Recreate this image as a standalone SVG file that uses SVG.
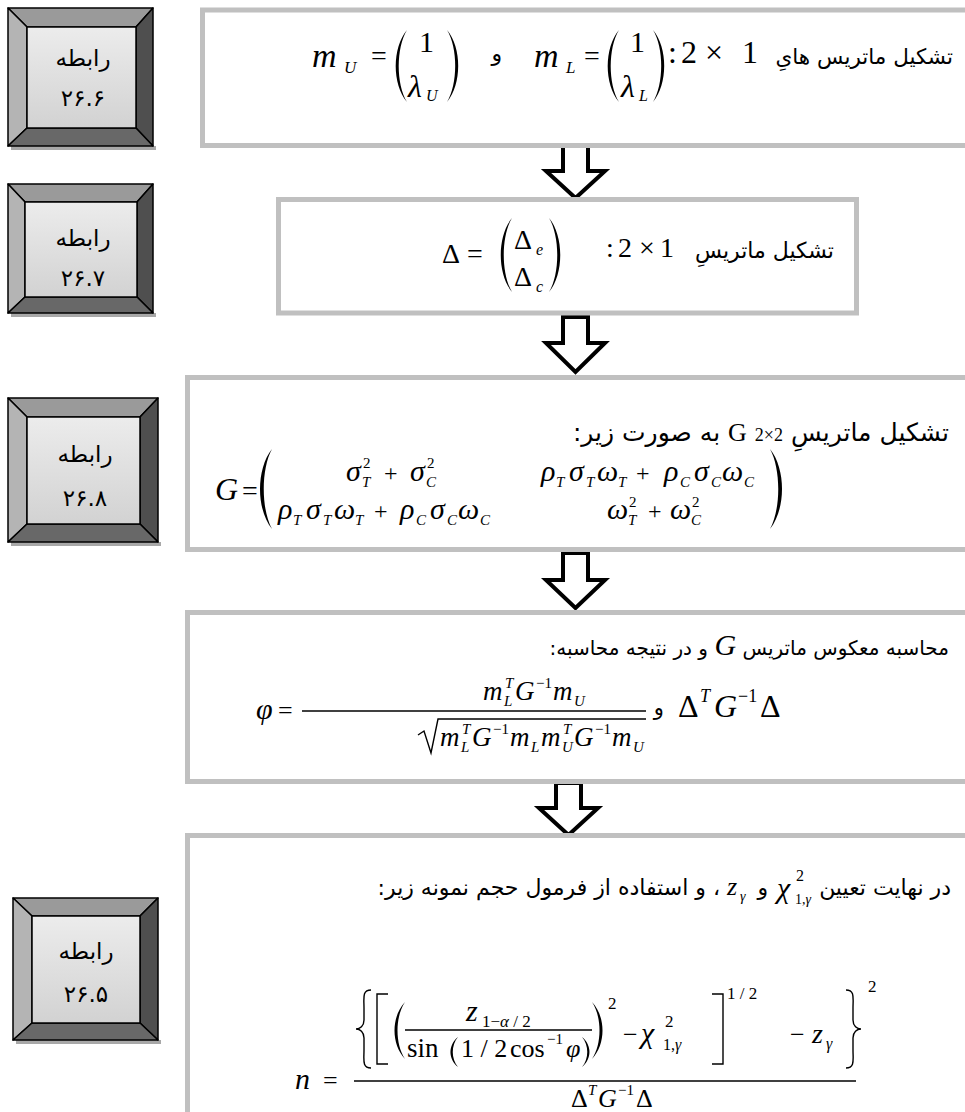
<svg xmlns="http://www.w3.org/2000/svg" width="965" height="1112" viewBox="0 0 965 1112">
<defs>
<linearGradient id="face" x1="0" y1="0" x2="0" y2="1">
<stop offset="0" stop-color="#ececec"/>
<stop offset="1" stop-color="#d2d2d2"/>
</linearGradient>
</defs>
<style>
.box{fill:none;stroke:#c0c0c0;stroke-width:5}
.arrow{fill:#fff;stroke:#000;stroke-width:4;stroke-linejoin:miter}
.bt{fill:#9a9a9a;stroke:#000;stroke-width:1.5;stroke-linejoin:round}
.bl{fill:#b4b4b4;stroke:#000;stroke-width:1.5;stroke-linejoin:round}
.br{fill:#4f4f4f;stroke:#000;stroke-width:1.5;stroke-linejoin:round}
.bb{fill:#686868;stroke:#000;stroke-width:1.5;stroke-linejoin:round}
.bf{fill:url(#face);stroke:#000;stroke-width:1.5}
.sh{fill:#a8a8a8}
.fa{font-family:"DejaVu Sans",sans-serif;fill:#000;direction:rtl;text-anchor:start}
.lab{font-family:"DejaVu Sans",sans-serif;font-size:23px;text-anchor:middle;fill:#000}
.mi{font-family:"Liberation Serif",serif;font-style:italic;fill:#000}
.mn{font-family:"Liberation Serif",serif;font-style:normal;fill:#000}
.par{fill:#000;stroke:none}
.ln{stroke:#000;stroke-width:1.4;fill:none}
</style>

<g id="connectors">
<polygon class="arrow" points="563,146 588,146 588,171 605,171 575.5,198 546,171 563,171"/>
<polygon class="arrow" points="563,317 588,317 588,343 605,343 575.5,372 546,343 563,343"/>
<polygon class="arrow" points="563,553 588,553 588,580 605,580 575.5,608 546,580 563,580"/>
<polygon class="arrow" points="556,783 581,783 581,808 598,808 568.5,835 539,808 556,808"/>
</g>

<g id="label-26-6">
<rect class="sh" x="11" y="146" width="145" height="4"/>
<polygon class="bt" points="8,8 153,8 136,27 27,27"/>
<polygon class="bl" points="8,8 27,27 27,128 8,146"/>
<polygon class="br" points="153,8 153,146 136,128 136,27"/>
<polygon class="bb" points="8,146 153,146 136,128 27,128"/>
<rect class="bf" x="27" y="27" width="109" height="101"/>
<text class="lab" x="83" y="66">رابطه</text>
<text class="lab" x="83" y="106">۲۶.۶</text>
</g>

<g id="label-26-7">
<rect class="sh" x="11" y="313" width="145" height="4"/>
<polygon class="bt" points="8,184 153,184 137,202 25,202"/>
<polygon class="bl" points="8,184 25,202 25,297 8,313"/>
<polygon class="br" points="153,184 153,313 137,297 137,202"/>
<polygon class="bb" points="8,313 153,313 137,297 25,297"/>
<rect class="bf" x="25" y="202" width="112" height="95"/>
<text class="lab" x="83" y="246">رابطه</text>
<text class="lab" x="83" y="286">۲۶.۷</text>
</g>

<g id="label-26-8">
<rect class="sh" x="11" y="542" width="150" height="4"/>
<polygon class="bt" points="8,398 158,398 140,417 27,417"/>
<polygon class="bl" points="8,398 27,417 27,524 8,542"/>
<polygon class="br" points="158,398 158,542 140,524 140,417"/>
<polygon class="bb" points="8,542 158,542 140,524 27,524"/>
<rect class="bf" x="27" y="417" width="113" height="107"/>
<text class="lab" x="85" y="462">رابطه</text>
<text class="lab" x="85" y="506">۲۶.۸</text>
</g>

<g id="label-26-5">
<rect class="sh" x="16" y="1040" width="145" height="4"/>
<polygon class="bt" points="13,898 158,898 140,916 32,916"/>
<polygon class="bl" points="13,898 32,916 32,1023 13,1040"/>
<polygon class="br" points="158,898 158,1040 140,1023 140,916"/>
<polygon class="bb" points="13,1040 158,1040 140,1023 32,1023"/>
<rect class="bf" x="32" y="916" width="108" height="107"/>
<text class="lab" x="86" y="959">رابطه</text>
<text class="lab" x="86" y="1002">۲۶.۵</text>
</g>

<g id="step1">
<rect class="box" x="202.5" y="10" width="800" height="135.5"/>
<text class="fa" x="953" y="64" font-size="21.5">تشکیل ماتریس هایِ</text>
<g class="mn" font-size="32">
<text x="668" y="63">:</text>
<text x="681" y="63">2</text>
<text x="705" y="63">×</text>
<text x="742" y="63">1</text>
</g>
<text class="mi" x="312" y="67" font-size="34">m</text>
<text class="mi" x="344" y="73" font-size="17">U</text>
<text class="mn" x="371" y="65" font-size="28">=</text>
<path class="par" d="M407,30 C392,48 392,84 407,102 C396,84 396,48 407,30 Z"/>
<text class="mn" x="419" y="52" font-size="30">1</text>
<text class="mi" x="408" y="97" font-size="32">λ</text>
<text class="mi" x="426" y="101" font-size="16">U</text>
<path class="par" d="M447,30 C462,48 462,84 447,102 C458,84 458,48 447,30 Z"/>
<text class="fa" x="502" y="61" font-size="22">و</text>
<text class="mi" x="534" y="67" font-size="34">m</text>
<text class="mi" x="566" y="73" font-size="17">L</text>
<text class="mn" x="584" y="65" font-size="28">=</text>
<path class="par" d="M619,30 C604,48 604,84 619,102 C608,84 608,48 619,30 Z"/>
<text class="mn" x="630" y="52" font-size="30">1</text>
<text class="mi" x="621" y="97" font-size="32">λ</text>
<text class="mi" x="639" y="101" font-size="16">L</text>
<path class="par" d="M653,30 C668,48 668,84 653,102 C664,84 664,48 653,30 Z"/>
</g>

<g id="step2">
<rect class="box" x="278.5" y="199.5" width="578" height="113.5"/>
<text class="fa" x="834" y="258" font-size="22">تشکیل ماتریسِ</text>
<g class="mn" font-size="28">
<text x="606" y="257">:</text>
<text x="618" y="257">2</text>
<text x="639" y="257">×</text>
<text x="660" y="257">1</text>
</g>
<text class="mn" x="442" y="263" font-size="28">Δ</text>
<text class="mn" x="467" y="263" font-size="28">=</text>
<path class="par" d="M512,218 C497,236 497,274 512,292 C501,274 501,236 512,218 Z"/>
<text class="mn" x="514" y="249" font-size="28">Δ</text>
<text class="mi" x="536" y="255" font-size="16">e</text>
<text class="mn" x="514" y="286" font-size="28">Δ</text>
<text class="mi" x="536" y="292" font-size="16">c</text>
<path class="par" d="M549,218 C564,236 564,274 549,292 C560,274 560,236 549,218 Z"/>
</g>

<g id="step3">
<rect class="box" x="187.5" y="377.5" width="800" height="172"/>
<text class="fa" x="949" y="441" font-size="25">تشکیل ماتریسِ <tspan class="mn" font-size="18">2×2</tspan> <tspan class="mn" font-size="26">G</tspan> به صورت زیر:</text>
<text class="mi" x="215" y="500" font-size="32">G</text>
<text class="mn" x="242" y="500" font-size="28">=</text>
<path class="par" d="M272,449 C256,469 256,509 272,529 C261,509 261,469 272,449 Z"/>
<path class="par" d="M770,449 C786,469 786,509 770,529 C781,509 781,469 770,449 Z"/>
<g font-size="30">
<text class="mi" x="346" y="481">σ</text>
<text class="mi" x="410" y="481">σ</text>
<text class="mi" x="541" y="481">ρ</text><text class="mi" x="569" y="481">σ</text><text class="mi" x="597" y="481">ω</text>
<text class="mi" x="664" y="481">ρ</text><text class="mi" x="694" y="481">σ</text><text class="mi" x="722" y="481">ω</text>
<text class="mi" x="278" y="519">ρ</text><text class="mi" x="306" y="519">σ</text><text class="mi" x="334" y="519">ω</text>
<text class="mi" x="400" y="519">ρ</text><text class="mi" x="430" y="519">σ</text><text class="mi" x="458" y="519">ω</text>
<text class="mi" x="607" y="519">ω</text>
<text class="mi" x="670" y="519">ω</text>
</g>
<g class="mn" font-size="24">
<text x="384" y="481">+</text>
<text x="636" y="481">+</text>
<text x="374" y="519">+</text>
<text x="648" y="519">+</text>
</g>
<g font-size="15">
<text class="mi" x="362" y="487">T</text><text class="mn" x="363" y="468">2</text>
<text class="mi" x="426" y="487">C</text><text class="mn" x="427" y="468">2</text>
<text class="mi" x="556" y="487">T</text><text class="mi" x="586" y="487">T</text><text class="mi" x="618" y="487">T</text>
<text class="mi" x="680" y="487">C</text><text class="mi" x="711" y="487">C</text><text class="mi" x="744" y="487">C</text>
<text class="mi" x="293" y="525">T</text><text class="mi" x="323" y="525">T</text><text class="mi" x="355" y="525">T</text>
<text class="mi" x="416" y="525">C</text><text class="mi" x="447" y="525">C</text><text class="mi" x="480" y="525">C</text>
<text class="mi" x="628" y="525">T</text><text class="mn" x="629" y="507">2</text>
<text class="mi" x="691" y="525">C</text><text class="mn" x="692" y="507">2</text>
</g>
</g>

<g id="step4">
<rect class="box" x="187.5" y="612.5" width="800" height="169"/>
<text class="fa" x="949" y="655" font-size="20">محاسبه معکوس ماتریس <tspan class="mi" font-size="30">G</tspan> و در نتیجه محاسبه:</text>
<text class="mi" x="256" y="719" font-size="30">φ</text>
<text class="mn" x="278" y="719" font-size="26">=</text>
<line class="ln" x1="302" y1="711" x2="646" y2="711"/>
<g font-size="27">
<text class="mi" x="483" y="700">m</text><text class="mi" x="515" y="700">G</text><text class="mi" x="553" y="700">m</text>
<text class="mi" x="440" y="746">m</text><text class="mi" x="472" y="746">G</text><text class="mi" x="510" y="746">m</text>
<text class="mi" x="541" y="746">m</text><text class="mi" x="574" y="746">G</text><text class="mi" x="612" y="746">m</text>
</g>
<g font-size="15">
<text class="mi" x="504" y="706">L</text><text class="mi" x="505" y="688">T</text><text class="mn" x="536" y="688">−1</text><text class="mi" x="574" y="706">U</text>
<text class="mi" x="461" y="752">L</text><text class="mi" x="462" y="734">T</text><text class="mn" x="493" y="734">−1</text><text class="mi" x="531" y="752">L</text>
<text class="mi" x="562" y="752">U</text><text class="mi" x="563" y="734">T</text><text class="mn" x="595" y="734">−1</text><text class="mi" x="633" y="752">U</text>
</g>
<path class="ln" d="M418,735 L424,731 L431,753 L438,719 L646,719"/>
<text class="fa" x="664" y="715" font-size="21">و</text>
<g font-size="32">
<text class="mn" x="678" y="717">Δ</text>
<text class="mi" x="714" y="717">G</text>
<text class="mn" x="760" y="717">Δ</text>
</g>
<text class="mi" x="700" y="702" font-size="18">T</text>
<text class="mn" x="738" y="702" font-size="18">−1</text>
</g>

<g id="step5">
<rect class="box" x="187.5" y="835.5" width="800" height="300"/>
<text class="fa" x="951" y="895" font-size="22">در نهایت تعیین</text>
<text class="mi" x="777" y="898" font-size="30">χ</text>
<text class="mn" x="795" y="904" font-size="14">1,<tspan font-style="italic">γ</tspan></text>
<text class="mn" x="796" y="881" font-size="16">2</text>
<text class="fa" x="768" y="895" font-size="22">و</text>
<text class="mi" x="727" y="895" font-size="26">z</text>
<text class="mi" x="740" y="901" font-size="14">γ</text>
<text class="fa" x="720" y="895" font-size="22">، و استفاده از فرمول حجم نمونه زیر:</text>

<path class="ln" d="M371,990 C362,990 364,998 364,1008 L364,1020 C364,1026 360,1029 356,1029 C360,1029 364,1032 364,1038 L364,1050 C364,1060 362,1068 371,1068"/>
<path class="ln" d="M388,994 H377 V1064 H388"/>
<path class="par" d="M405,1002 C391,1017 391,1044 405,1059 C395,1044 395,1017 405,1002 Z"/>
<line class="ln" x1="405" y1="1030" x2="592" y2="1030"/>
<text class="mi" x="466" y="1021" font-size="30">z</text>
<text class="mn" x="482" y="1027" font-size="17">1−<tspan font-style="italic">α</tspan> / 2</text>
<text class="mn" x="407" y="1057" font-size="27">sin</text>
<path class="par" d="M458,1037 C448,1045 448,1059 458,1067 C451,1059 451,1045 458,1037 Z"/>
<text class="mn" x="461" y="1057" font-size="26">1 / 2</text>
<text class="mn" x="510" y="1057" font-size="26">cos</text>
<text class="mn" x="547" y="1044" font-size="15">−1</text>
<text class="mi" x="566" y="1057" font-size="26">φ</text>
<path class="par" d="M582,1037 C592,1045 592,1059 582,1067 C589,1059 589,1045 582,1037 Z"/>
<path class="par" d="M592,1002 C606,1017 606,1044 592,1059 C602,1044 602,1017 592,1002 Z"/>
<text class="mn" x="608" y="1009" font-size="17">2</text>
<text class="mn" x="623" y="1043" font-size="26">−</text>
<text class="mi" x="641" y="1043" font-size="30">χ</text>
<text class="mn" x="663" y="1050" font-size="16">1,<tspan font-style="italic">γ</tspan></text>
<text class="mn" x="665" y="1027" font-size="17">2</text>
<path class="ln" d="M712,994 H723 V1064 H712"/>
<text class="mn" x="727" y="999" font-size="17">1 / 2</text>
<text class="mn" x="790" y="1043" font-size="26">−</text>
<text class="mi" x="812" y="1043" font-size="28">z</text>
<text class="mi" x="826" y="1049" font-size="16">γ</text>
<path class="ln" d="M846,990 C855,990 853,998 853,1008 L853,1020 C853,1026 857,1029 861,1029 C857,1029 853,1032 853,1038 L853,1050 C853,1060 855,1068 846,1068"/>
<text class="mn" x="868" y="992" font-size="17">2</text>
<text class="mi" x="295" y="1089" font-size="30">n</text>
<text class="mn" x="323" y="1089" font-size="26">=</text>
<line class="ln" x1="354" y1="1081" x2="856" y2="1081"/>
<text class="mn" x="571" y="1107" font-size="26">Δ</text>
<text class="mi" x="588" y="1095" font-size="15">T</text>
<text class="mi" x="598" y="1107" font-size="26">G</text>
<text class="mn" x="618" y="1095" font-size="15">−1</text>
<text class="mn" x="636" y="1107" font-size="26">Δ</text>
</g>
</svg>
